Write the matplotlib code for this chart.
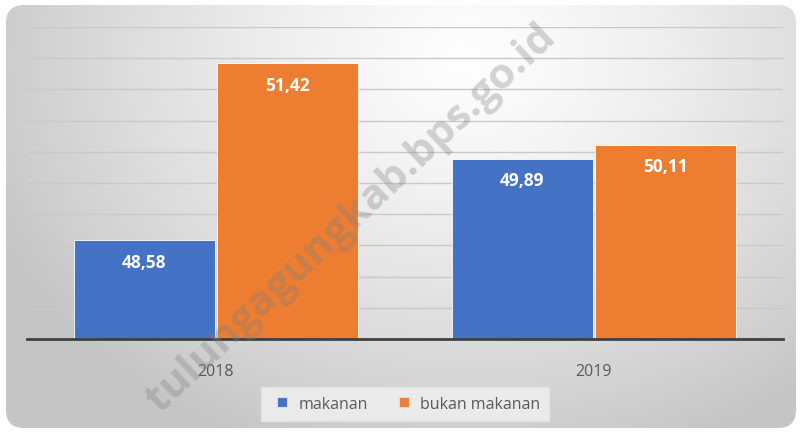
import numpy as np
import matplotlib
matplotlib.use("Agg")
import matplotlib.pyplot as plt
from matplotlib.patches import FancyBboxPatch
from matplotlib.lines import Line2D

# Data
categories = ["2018", "2019"]
series_names = ["makanan", "bukan makanan"]
makanan = [48.58, 49.89]
bukan_makanan = [51.42, 50.11]
value_labels_makanan = ["48,58", "49,89"]
value_labels_bukan = ["51,42", "50,11"]
colors = ["#4472C4", "#ED7D31"]

W, H = 802, 435
fig = plt.figure(figsize=(W / 100, H / 100), dpi=100)
fig.patch.set_facecolor("white")

# Background panel with radial gradient and rounded corners
bg = fig.add_axes([0, 0, 1, 1])
bg.set_xlim(0, W)
bg.set_ylim(H, 0)
bg.axis("off")
yy, xx = np.mgrid[0:H, 0:W]
cx, cy = 470, 60
d = np.sqrt(((xx - cx) / 520.0) ** 2 + ((yy - cy) / 420.0) ** 2)
d = np.clip(d, 0, 1)
v = 0.995 - 0.22 * d ** 1.3
img = np.dstack([v, v, v])
im = bg.imshow(img, extent=(0, W, H, 0), interpolation="bilinear", zorder=0)
panel = FancyBboxPatch((6, 6), W - 12, H - 12, boxstyle="round,pad=0,rounding_size=18",
                       transform=bg.transData, facecolor="none", edgecolor="none")
bg.add_patch(panel)
im.set_clip_path(panel)

# Main axes
left, right, top, bottom = 27, 783, 28, 340
ax = fig.add_axes([left / W, (H - bottom) / H, (right - left) / W, (bottom - top) / H])
ax.patch.set_alpha(0)
x = np.arange(len(categories))
bw = 141 / 378
b1 = ax.bar(x - bw / 2 - 0.003, makanan, width=bw, bottom=0, color=colors[0],
            edgecolor="white", linewidth=0.6, zorder=3)
b2 = ax.bar(x + bw / 2 + 0.003, bukan_makanan, width=bw, color=colors[1],
            edgecolor="white", linewidth=0.6, zorder=3)
ax.set_ylim(47, 52)
ax.set_xlim(-0.5, 1.5)
ax.set_yticks(np.arange(47.5, 52.01, 0.5))
ax.yaxis.grid(True, color="#c9c9c9", linewidth=1.0, zorder=0)
ax.set_axisbelow(True)
ax.tick_params(axis="y", left=False, labelleft=False)
ax.tick_params(axis="x", bottom=False, labelsize=11.5, labelcolor="#595959", pad=14)
ax.set_xticks(x)
ax.set_xticklabels(categories, fontfamily="Open Sans")
for s in ["left", "right", "top"]:
    ax.spines[s].set_visible(False)
ax.spines["bottom"].set_color("#404040")
ax.spines["bottom"].set_linewidth(2)
ax.spines["bottom"].set_zorder(5)

for bars, labels in [(b1, value_labels_makanan), (b2, value_labels_bukan)]:
    for rect, lab in zip(bars, labels):
        ax.annotate(lab, (rect.get_x() + rect.get_width() / 2, rect.get_height()),
                    xytext=(0, -15.5), textcoords="offset points", ha="center", va="center",
                    color="white", fontsize=12.5, fontweight="bold", fontfamily="Open Sans",
                    zorder=6)

# Legend
handles = [Line2D([], [], marker="s", linestyle="none", markersize=7,
                  markerfacecolor=c, markeredgecolor="#dddddd", markeredgewidth=0.8)
           for c in colors]
leg = fig.legend(handles, series_names, loc="center", bbox_to_anchor=(405 / W, 1 - 405 / H),
                 ncol=2, frameon=True, handletextpad=0.25, columnspacing=1.4,
                 borderpad=0.55, handlelength=1.6, prop={"family": "Open Sans", "size": 11.5})
leg.get_frame().set_facecolor("#eeeeee")
leg.get_frame().set_edgecolor("#e4e4e4")
leg.get_frame().set_alpha(0.9)
leg.get_frame().set_boxstyle("square", pad=0)
for t in leg.get_texts():
    t.set_color("#595959")

# Watermark
fig.text(352 / W, 1 - 219 / H, "tulungagungkab.bps.go.id", rotation=43.3, ha="center",
         va="center", fontsize=30.5, fontweight="bold", color="#808080", alpha=0.33,
         fontfamily="Open Sans", zorder=10)

fig.savefig("out.png", dpi=100)
